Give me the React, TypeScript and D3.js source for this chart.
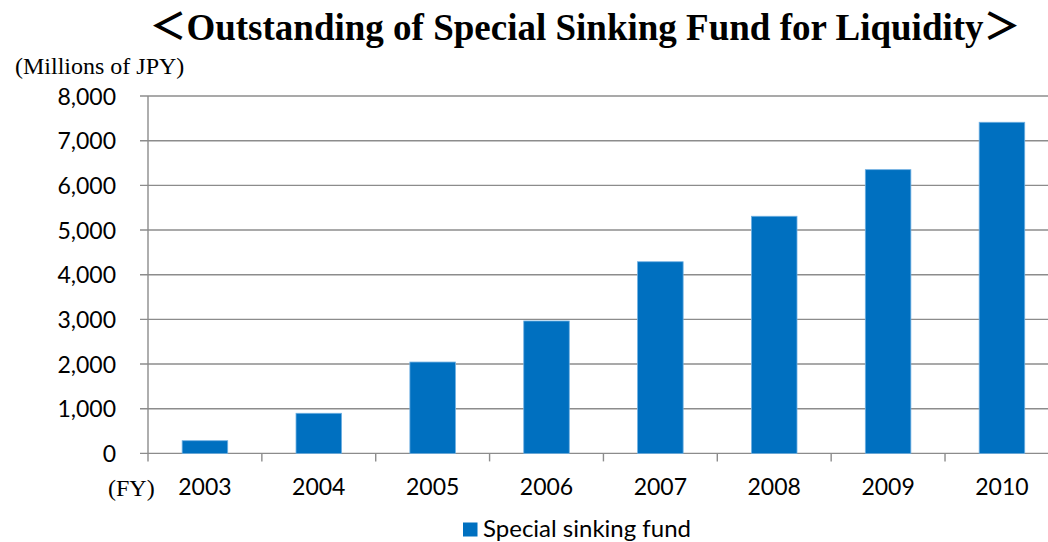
import { useEffect, useRef } from 'react';
import * as d3 from 'd3';

const years = ['2003', '2004', '2005', '2006', '2007', '2008', '2009', '2010'];
const fundValues = [284, 898, 2045, 2964, 4290, 5308, 6351, 7412];
const yTicks = [0, 1000, 2000, 3000, 4000, 5000, 6000, 7000, 8000];

const WIDTH = 1048;
const HEIGHT = 542;
const BAR_COLOR = '#0070C0';
const GRID_COLOR = '#8c8c8c';
const TICK_FONT = 'Lato, "Open Sans", sans-serif';
const SERIF = '"Liberation Serif", "Times New Roman", serif';

export default function App() {
  const svgRef = useRef<SVGSVGElement>(null);

  useEffect(() => {
    if (!svgRef.current) return;
    const svg = d3.select(svgRef.current);
    svg.selectAll('*').remove();

    const left = 148;
    const step = 113.86;
    const right = left + step * years.length;
    const top = 96;
    const bottom = 453.4;

    const x = d3.scaleBand<string>().domain(years).range([left, right]).paddingInner(0.6).paddingOuter(0.3);
    const y = d3.scaleLinear().domain([0, 8000]).range([bottom, top]);

    // gridlines + y ticks
    svg
      .append('g')
      .selectAll('line')
      .data(yTicks)
      .join('line')
      .attr('x1', left - 8)
      .attr('x2', WIDTH)
      .attr('y1', (d) => y(d))
      .attr('y2', (d) => y(d))
      .attr('stroke', GRID_COLOR)
      .attr('stroke-width', 1.4);

    // y axis line
    svg
      .append('line')
      .attr('x1', left)
      .attr('x2', left)
      .attr('y1', top)
      .attr('y2', bottom + 8)
      .attr('stroke', GRID_COLOR)
      .attr('stroke-width', 1.4);

    // x ticks at category boundaries
    svg
      .append('g')
      .selectAll('line')
      .data(d3.range(1, years.length + 1))
      .join('line')
      .attr('x1', (i) => left + i * step)
      .attr('x2', (i) => left + i * step)
      .attr('y1', bottom)
      .attr('y2', bottom + 8)
      .attr('stroke', GRID_COLOR)
      .attr('stroke-width', 1.4);

    // bars
    svg
      .append('g')
      .selectAll('rect')
      .data(fundValues)
      .join('rect')
      .attr('x', (_, i) => x(years[i])!)
      .attr('width', x.bandwidth())
      .attr('y', (d) => y(d))
      .attr('height', (d) => bottom - y(d))
      .attr('fill', BAR_COLOR)
      .attr('stroke', '#6fb0e2')
      .attr('stroke-width', 0.8);

    // y tick labels
    svg
      .append('g')
      .selectAll('text')
      .data(yTicks)
      .join('text')
      .attr('x', 116)
      .attr('y', (d) => y(d) + 8.5)
      .attr('text-anchor', 'end')
      .attr('font-family', TICK_FONT)
      .attr('font-size', 23)
      .attr('fill', '#000')
      .text((d) => d3.format(',')(d));

    // x tick labels
    svg
      .append('g')
      .selectAll('text')
      .data(years)
      .join('text')
      .attr('x', (d) => x(d)! + x.bandwidth() / 2)
      .attr('y', 495)
      .attr('text-anchor', 'middle')
      .attr('font-family', TICK_FONT)
      .attr('font-size', 23)
      .attr('fill', '#000')
      .text((d) => d);

    svg
      .append('text')
      .attr('x', 108)
      .attr('y', 496)
      .attr('font-family', SERIF)
      .attr('font-size', 24)
      .text('(FY)');

    svg
      .append('text')
      .attr('x', 15)
      .attr('y', 74)
      .attr('font-family', SERIF)
      .attr('font-size', 24)
      .text('(Millions of JPY)');

    // title
    svg
      .append('text')
      .attr('x', 585)
      .attr('y', 40)
      .attr('text-anchor', 'middle')
      .attr('font-family', `${SERIF}, "Noto Sans CJK JP"`)
      .attr('font-weight', 'bold')
      .attr('font-size', 37)
      .text('＜Outstanding of Special Sinking Fund for Liquidity＞');

    // legend
    const lg = svg.append('g');
    lg.append('rect')
      .attr('x', 463)
      .attr('y', 522.5)
      .attr('width', 14.5)
      .attr('height', 14)
      .attr('fill', BAR_COLOR);
    lg.append('text')
      .attr('x', 483)
      .attr('y', 537)
      .attr('font-family', TICK_FONT)
      .attr('font-size', 24)
      .text('Special sinking fund');
  }, []);

  return (
    <svg
      ref={svgRef}
      width={WIDTH}
      height={HEIGHT}
      style={{ position: 'absolute', left: 0, top: 0, background: '#fff', overflow: 'hidden' }}
    />
  );
}
